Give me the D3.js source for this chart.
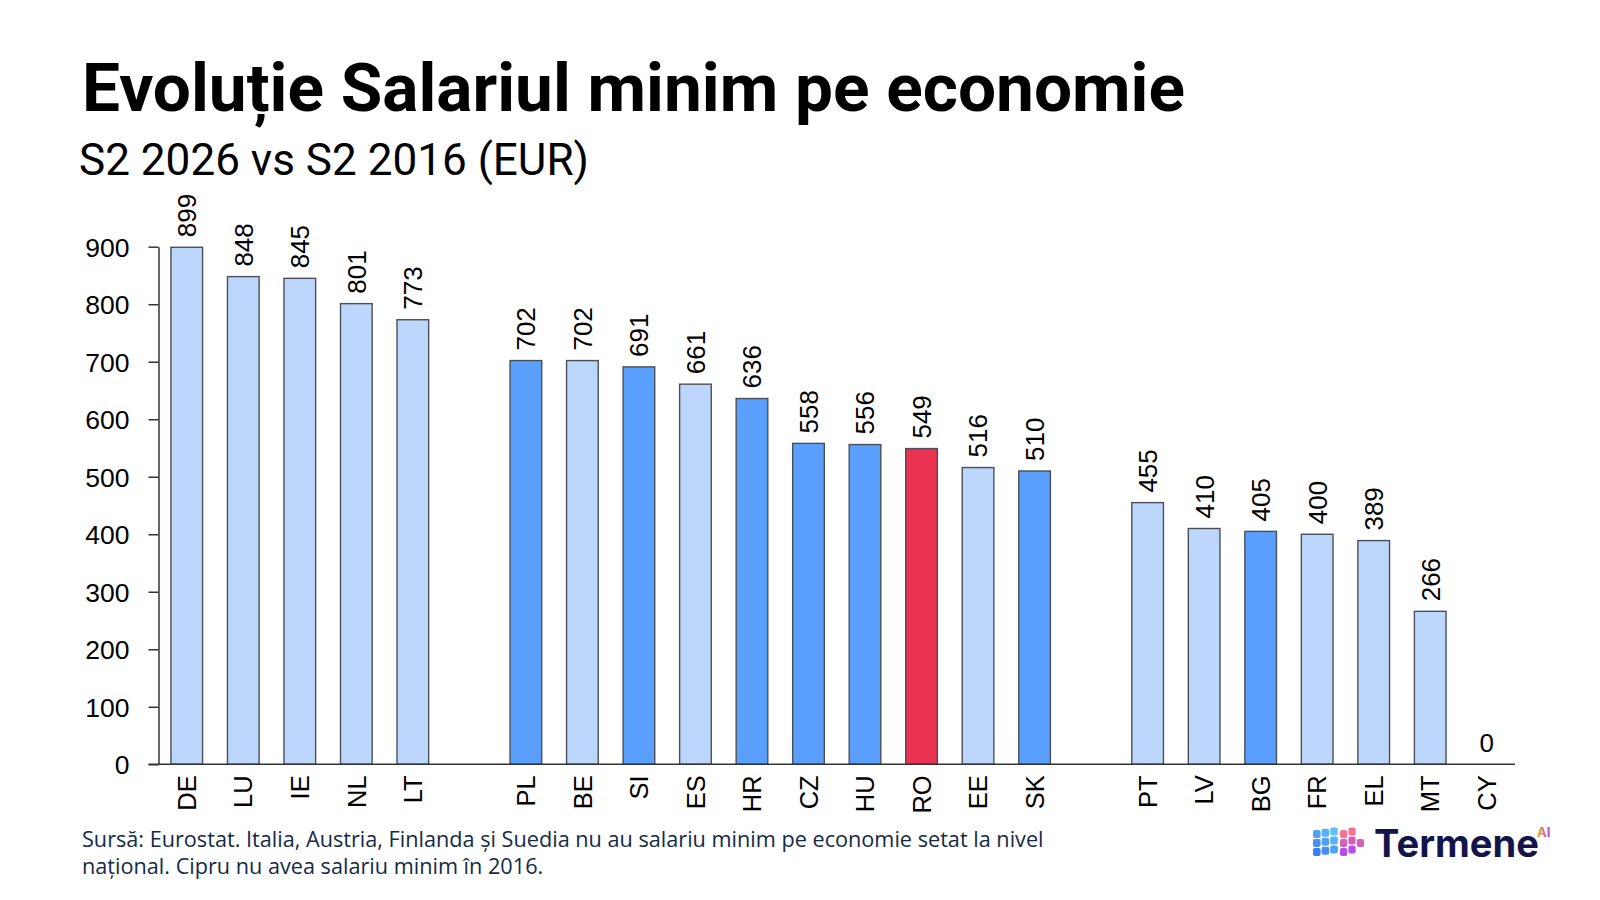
<!DOCTYPE html>
<html>
<head>
<meta charset="utf-8">
<script src="https://cdn.jsdelivr.net/npm/d3@7/dist/d3.min.js"></script>
<style>
  html, body { margin: 0; padding: 0; background: #ffffff; }
  svg { display: block; }
</style>
</head>
<body>
<svg id="chart" width="1600" height="900"></svg>
<script>
// ---- Data ----
const countries = ["DE","LU","IE","NL","LT","PL","BE","SI","ES","HR","CZ","HU","RO","EE","SK","PT","LV","BG","FR","EL","MT","CY"];
const values    = [899, 848, 845, 801, 773, 702, 702, 691, 661, 636, 558, 556, 549, 516, 510, 455, 410, 405, 400, 389, 266, 0];
const groups    = ["light","light","light","light","light","dark","light","dark","light","dark","dark","dark","red","light","dark","light","light","dark","light","light","light","light"];
const bandOrder = ["DE","LU","IE","NL","LT","_g1","PL","BE","SI","ES","HR","CZ","HU","RO","EE","SK","_g2","PT","LV","BG","FR","EL","MT","CY"];
const yTicks    = [0,100,200,300,400,500,600,700,800,900];
const titleText = "Evoluție Salariul minim pe economie";
const subtitleText = "S2 2026 vs S2 2016 (EUR)";
const footerLines = ["Sursă: Eurostat. Italia, Austria, Finlanda și Suedia nu au salariu minim pe economie setat la nivel",
                     "național. Cipru nu avea salariu minim în 2016."];

const colors = { light: "#bdd7fc", dark: "#5b9ffc", red: "#ea3350" };

const data = countries.map((c, i) => ({ country: c, value: values[i], group: groups[i] }));

const svg = d3.select("#chart");

// ---- Titles ----
function fitText(sel, targetWidth) {
  const node = sel.node();
  const fs = parseFloat(sel.attr("font-size"));
  const w = node.getComputedTextLength();
  sel.attr("font-size", (fs * targetWidth / w).toFixed(2));
}

const title = svg.append("text")
  .attr("x", 82).attr("y", 111)
  .attr("font-family", "Roboto, 'Noto Sans', sans-serif")
  .attr("font-weight", 700)
  .attr("font-size", 62)
  .attr("fill", "#000")
  .text(titleText);
fitText(title, 1185 - 82);

const subtitle = svg.append("text")
  .attr("x", 79).attr("y", 175)
  .attr("font-family", "Roboto, 'Noto Sans', sans-serif")
  .attr("font-weight", 400)
  .attr("font-size", 43)
  .attr("fill", "#000")
  .text(subtitleText);
fitText(subtitle, 589 - 79);

// ---- Scales ----
const x = d3.scaleBand().domain(bandOrder).range([158.5, 1515]).paddingInner(0.44).paddingOuter(0.22);
const y = d3.scaleLinear().domain([0, 900]).range([764.3, 246.7]);

const axisColor = "#333";
const tickFont = "'Liberation Sans', Arial, sans-serif";

// ---- Y axis ----
const yAxis = d3.axisLeft(y).tickValues(yTicks).tickSize(10).tickSizeOuter(0).tickPadding(19);
const gy = svg.append("g").attr("transform", `translate(${x.range()[0]},0)`).call(yAxis);
gy.select(".domain").attr("stroke", axisColor).attr("stroke-width", 1.5);
gy.selectAll(".tick line").attr("stroke", axisColor).attr("stroke-width", 1.5);
gy.selectAll(".tick text")
  .attr("font-family", tickFont).attr("font-size", 26.5).attr("fill", "#000")
  .attr("dy", "0.36em");

// ---- Bars ----
const bars = data.filter(d => d.value > 0);
svg.append("g").selectAll("rect").data(bars).join("rect")
  .attr("x", d => x(d.country))
  .attr("y", d => y(d.value))
  .attr("width", x.bandwidth())
  .attr("height", d => y(0) - y(d.value))
  .attr("fill", d => colors[d.group])
  .attr("stroke", "#4a4f57")
  .attr("stroke-width", 1.4);

// ---- X axis ----
const xAxis = d3.axisBottom(x).tickValues(countries).tickSize(0).tickSizeOuter(0).tickPadding(0);
const gx = svg.append("g").attr("transform", `translate(0,${y(0)})`).call(xAxis);
gx.select(".domain").remove();
svg.append("line")
  .attr("x1", x.range()[0] - 10).attr("x2", x.range()[1])
  .attr("y1", y(0)).attr("y2", y(0))
  .attr("stroke", axisColor).attr("stroke-width", 1.5);
gx.selectAll(".tick text")
  .attr("font-family", tickFont).attr("font-size", 25.5).attr("fill", "#000")
  .attr("text-anchor", "end")
  .attr("transform", "translate(0,11) rotate(-90)")
  .attr("x", 0).attr("y", 0).attr("dy", "0.36em");

// ---- Value labels ----
// rotated labels above bars; a zero value is written upright just above the axis
svg.append("g").selectAll("text").data(data).join("text")
  .attr("transform", d => d.value > 0
      ? `translate(${x(d.country) + x.bandwidth() / 2},${y(d.value) - 10}) rotate(-90)`
      : `translate(${x(d.country) + x.bandwidth() / 2},${y(d.value) - 12})`)
  .attr("dy", d => d.value > 0 ? "0.36em" : "0")
  .attr("text-anchor", d => d.value > 0 ? "start" : "middle")
  .attr("font-family", tickFont)
  .attr("font-size", 26)
  .attr("fill", "#000")
  .text(d => d.value);

// ---- Footer ----
const footer = svg.append("g")
  .attr("font-family", "'Open Sans', 'Noto Sans', sans-serif")
  .attr("fill", "#142a47");
const f1 = footer.append("text").attr("x", 82).attr("y", 847).attr("font-size", 20).text(footerLines[0]);
fitText(f1, 1044 - 82);
const fs = f1.attr("font-size");
footer.append("text").attr("x", 82).attr("y", 874).attr("font-size", fs).text(footerLines[1]);

// ---- Logo ----
const logo = svg.append("g");
const leftCells = [];
for (let c = 0; c < 3; c++) for (let r = 0; r < 3; r++) leftCells.push({ c, r });
const blue = d3.scaleLinear().domain([0, 4]).range(["#3c7ff5", "#62c0f9"]);
logo.selectAll("rect.lf").data(leftCells).join("rect").attr("class", "lf")
  .attr("x", d => 1313 + d.c * 8.6)
  .attr("y", d => 830 + d.r * 9 - d.c * 1.2)
  .attr("width", 7.6).attr("height", 8).attr("rx", 2)
  .attr("fill", d => blue(d.c + (2 - d.r)));
const rightCells = [{c:0,r:0},{c:0,r:1},{c:0,r:2},{c:1,r:0},{c:1,r:1},{c:1,r:2},{c:2,r:1}];
const pink = d3.scaleLinear().domain([0, 2]).range(["#f4718f", "#b84de8"]);
logo.selectAll("rect.rf").data(rightCells).join("rect").attr("class", "rf")
  .attr("x", d => 1340 + d.c * 8.4)
  .attr("y", d => 829 + d.r * 9 + (d.c === 2 ? 0 : -d.c * 2.5) + 1)
  .attr("width", 7.2).attr("height", 8).attr("rx", 2)
  .attr("fill", d => pink(d.r));
const tm = logo.append("text")
  .attr("x", 1374).attr("y", 857)
  .attr("font-family", "Inter, 'Noto Sans', sans-serif")
  .attr("font-weight", 700).attr("font-size", 36)
  .attr("fill", "#13154a")
  .text("Termene");
fitText(tm, 1539 - 1374);
const grad = svg.append("defs").append("linearGradient").attr("id", "aiGrad").attr("x1", "0").attr("x2", "1");
grad.append("stop").attr("offset", "0%").attr("stop-color", "#f7a51c");
grad.append("stop").attr("offset", "100%").attr("stop-color", "#b23ce6");
logo.append("text")
  .attr("x", 1537).attr("y", 837)
  .attr("font-family", "Inter, 'Noto Sans', sans-serif")
  .attr("font-weight", 700).attr("font-size", 13)
  .attr("fill", "url(#aiGrad)")
  .text("AI");
</script>
</body>
</html>
